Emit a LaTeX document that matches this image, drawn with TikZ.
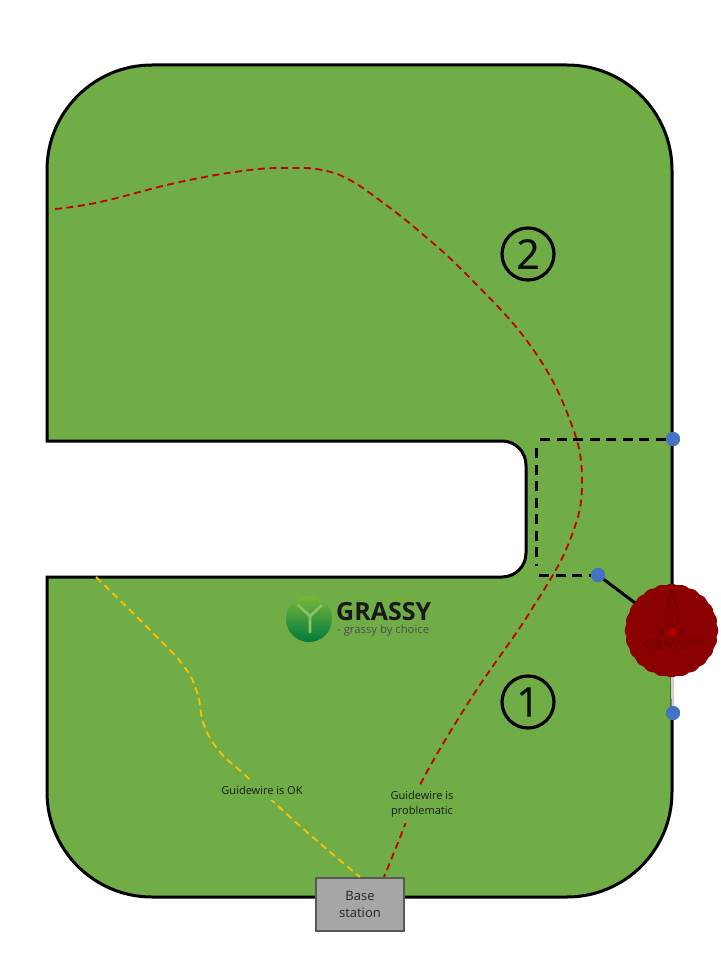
\documentclass[tikz,border=0pt]{standalone}
\usepackage{fontspec}
\setmainfont{Open Sans}
\definecolor{lawn}{HTML}{70AD47}
\definecolor{dotblue}{HTML}{4472C4}
\definecolor{wirered}{HTML}{C00000}
\definecolor{wireyellow}{HTML}{FFC000}
\definecolor{mower}{HTML}{8B0000}
\definecolor{mowerdark}{HTML}{680000}
\definecolor{logotop}{HTML}{78B83C}
\definecolor{logobottom}{HTML}{00793C}
\definecolor{logoY}{HTML}{8DC063}
\tikzset{
  wire/.style={line width=1.8pt,dash pattern=on 7pt off 4.5pt},
  boundary/.style={draw=black,line width=3pt,fill=lawn},
  fence/.style={black,line width=3pt,dash pattern=on 10pt off 6.5pt},
  bluedot/.style={circle,fill=dotblue,draw=none,inner sep=0pt,minimum size=14pt},
  zonemark/.style={circle,draw=black,line width=3.2pt,minimum size=52pt,inner sep=0pt,font=\fontsize{41pt}{41pt}\selectfont\addfontfeature{FakeBold=0.5},text=black!95},
  wirelabel/.style={fill=lawn,inner xsep=2pt,inner ysep=5.5pt,align=center,font=\fontsize{11pt}{15pt}\selectfont,text=black!90},
  basebox/.style={draw=black!65,line width=2.2pt,fill=black!35,minimum width=88pt,minimum height=53pt,inner sep=0pt,align=center,font=\fontsize{13pt}{17pt}\selectfont,text=black!85}
}
\begin{document}
\begin{tikzpicture}[x=1pt,y=-1pt]
\useasboundingbox (0,0) rectangle (720,960);
% lawn
\draw[boundary] (47,441) -- (47,170) arc[start angle=180,end angle=270,radius=105]
  -- (567,65) arc[start angle=270,end angle=360,radius=105]
  -- (672,792) arc[start angle=0,end angle=90,radius=105]
  -- (152,897) arc[start angle=90,end angle=180,radius=105]
  -- (47,577) -- (502,577) arc[start angle=90,end angle=0,radius=24]
  -- (526,465) arc[start angle=0,end angle=-90,radius=24] -- cycle;
% base and anchors
\node[basebox] (base) at (360,904.5) {\raisebox{-1.5pt}{Base}\\[0pt]\raisebox{-1pt}{station}};
\coordinate (redStart) at (55,209);
\coordinate (redEnd) at (384,877);
\coordinate (yellowStart) at (96,577);
\coordinate (yellowEnd) at (360,877);
\coordinate (fenceA) at (536,439);
\coordinate (fenceB) at (536,448);
\coordinate (fenceC) at (536,566);
\coordinate (fenceD) at (539,575);
% guide wires
\draw[wire,wirered] plot[smooth,tension=0.7] coordinates {(redStart) (100,202) (180,182) (250,170) (295,168) (322,170) (348,179) (378,199) (420,232) (470,278) (530,345) (568,415) (582,478) (570,540) (530,612) (470,700) (420,785) (403,830) (redEnd)};
\draw[wire,wireyellow] plot[smooth,tension=0.7] coordinates {(yellowStart) (150,630) (183,665) (197,692) (204,725) (220,752) (245,775) (300,826) (yellowEnd)};
\node[wirelabel] (okLabel) at (262,790.5) {Guidewire is OK};
\node[wirelabel] (badLabel) at (422,804.5) {Guidewire is\\problematic};
% zones
\node[zonemark] (zoneTwo) at (528,254) {2};
\node[zonemark] (zoneOne) at (528,702) {1};
% logo
\shade[top color=logotop,bottom color=logobottom] (309,619) circle[radius=23];
\draw[logoY,line width=2.8pt] (298,605) -- (310,616) -- (322,605) (310,616) -- (310,633);
\node[anchor=west,inner sep=0pt,font=\fontsize{25pt}{25pt}\selectfont\bfseries,text=black!90] (logoName) at (336,612) {GRASSY};
\node[anchor=west,inner sep=0pt,font=\fontsize{11.3pt}{12pt}\selectfont,text=black!70] (logoTag) at (337,631) {- grassy by choice};
% perimeter sensor parts
\node[bluedot] (dotTop) at (673,439) {};
\node[bluedot] (dotMid) at (598,575) {};
\node[bluedot] (dotBot) at (673,713) {};
\coordinate (mowerC) at (671.5,630.5);
\draw[black,line width=3pt] (dotMid) -- (mowerC);
\draw[black!18,line width=3pt] (mowerC) -- (dotBot);
\draw[fence] (dotTop) -- (fenceA);
\draw[fence] (fenceB) -- (fenceC);
\draw[fence] (fenceD) -- (dotMid);
\node[bluedot] at (dotTop) {};
\node[bluedot] at (dotMid) {};
\node[bluedot] at (dotBot) {};
% mower
\fill[mower] plot[smooth cycle,domain=0:356,samples=90,variable=\t] ({671.5+(45.3+1.5*abs(cos(12*\t)))*cos(\t)},{630.5+(45.3+1.5*abs(cos(12*\t)))*sin(\t)});
\draw[mowerdark,line width=0.8pt] (672,590) -- (678.5,617) -- (677,617) -- (677,627) -- (667,627) -- (667,617) -- (665.5,617) -- cycle;
\shade[left color=mowerdark,right color=mowerdark,middle color=red!75!black] (660,629) rectangle (683,634);
\node[inner sep=0pt,font=\fontsize{13.5pt}{14pt}\selectfont,text=mowerdark] (mowerName) at (674,645) {GRASSY™};
\end{tikzpicture}
\end{document}
